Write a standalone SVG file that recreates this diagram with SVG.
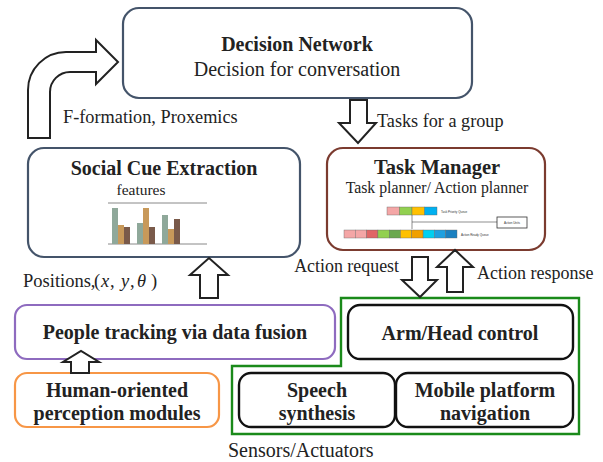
<svg xmlns="http://www.w3.org/2000/svg" width="603" height="462" viewBox="0 0 603 462">
<style>
text{font-family:"Liberation Serif","Times New Roman",serif;fill:#222}
.b{font-weight:bold}
.i{font-style:italic}
.arrow{fill:#fff;stroke:#222;stroke-width:2;stroke-linejoin:miter}
.slate{fill:#fff;stroke:#44546a;stroke-width:2.2}
.blk{fill:#fff;stroke:#111;stroke-width:2.4}
.tiny{font-family:"Liberation Sans",Arial,sans-serif;font-size:3px;fill:#333}
</style>
<rect width="603" height="462" fill="#fff"/>
<g id="sensors-actuators">
<polygon points="341,298 579,298 579,434 232,434 232,366 341,366" fill="none" stroke="#1a8a1a" stroke-width="2.4"/>
<text x="228" y="457" font-size="20">Sensors/Actuators</text>
</g>
<g id="decision-network">
<rect x="123" y="8" width="349" height="90" rx="16" class="slate"/>
<text x="297" y="51" font-size="20" text-anchor="middle" class="b">Decision Network</text>
<text x="297" y="76" font-size="20" text-anchor="middle">Decision for conversation</text>
</g>
<g id="social-cue-extraction">
<rect x="28" y="148" width="272" height="109" rx="16" class="slate"/>
<text x="164" y="175" font-size="20" text-anchor="middle" class="b">Social Cue Extraction</text>
<text x="141" y="195" font-size="15.5" text-anchor="middle">features</text>
<line x1="108" y1="203" x2="207" y2="203" stroke="#888" stroke-width="1"/>
<line x1="108" y1="244" x2="207" y2="244" stroke="#888" stroke-width="1"/>
<g>
<rect x="112" y="208" width="6" height="36" fill="#8fa89a"/>
<rect x="118" y="225" width="6" height="19" fill="#c8995a"/>
<rect x="124" y="227" width="6" height="17" fill="#7a5a4a"/>
<rect x="137" y="223" width="6" height="21" fill="#8fa89a"/>
<rect x="143" y="208" width="6" height="36" fill="#c8995a"/>
<rect x="149" y="227" width="6" height="17" fill="#7a5a4a"/>
<rect x="162" y="215" width="6" height="29" fill="#8fa89a"/>
<rect x="168" y="229" width="6" height="15" fill="#c8995a"/>
<rect x="174" y="219" width="6" height="25" fill="#7a5a4a"/>
</g>
</g>
<g id="task-manager">
<rect x="327" y="148" width="218" height="102" rx="16" fill="#fff" stroke="#7b3b2f" stroke-width="2.2"/>
<text x="437" y="174" font-size="20.5" text-anchor="middle" class="b">Task Manager</text>
<text x="437" y="193" font-size="15.8" text-anchor="middle">Task planner/ Action planner</text>
<g stroke="#666" stroke-width="0.4">
<rect x="387" y="207" width="12.5" height="8" fill="#f4a6a6"/>
<rect x="399.5" y="207" width="12.5" height="8" fill="#92d050"/>
<rect x="412" y="207" width="12.5" height="8" fill="#ffc000"/>
<rect x="424.5" y="207" width="12.5" height="8" fill="#00b0f0"/>
<rect x="344" y="230" width="11.3" height="8" fill="#f4a6a6"/>
<rect x="355.3" y="230" width="11.3" height="8" fill="#f4a6a6"/>
<rect x="366.6" y="230" width="11.3" height="8" fill="#e06666"/>
<rect x="377.9" y="230" width="11.3" height="8" fill="#92d050"/>
<rect x="389.2" y="230" width="11.3" height="8" fill="#6aa84f"/>
<rect x="400.5" y="230" width="11.3" height="8" fill="#ffc000"/>
<rect x="411.8" y="230" width="11.3" height="8" fill="#f0a000"/>
<rect x="423.1" y="230" width="11.3" height="8" fill="#00d0f0"/>
<rect x="434.4" y="230" width="11.3" height="8" fill="#1ea0e0"/>
<rect x="445.7" y="230" width="11.3" height="8" fill="#1a80c0"/>
</g>
<line x1="412" y1="215" x2="412" y2="229" stroke="#444" stroke-width="0.6"/>
<line x1="412" y1="222" x2="497" y2="222" stroke="#444" stroke-width="0.6"/>
<rect x="497" y="217" width="30" height="11" fill="#fff" stroke="#333" stroke-width="0.8"/>
<text x="512" y="223.5" class="tiny" text-anchor="middle">Action Units</text>
<text x="441" y="212.5" class="tiny">Task Priority Queue</text>
<text x="461" y="235.5" class="tiny">Action Ready Queue</text>
</g>
<g id="people-tracking">
<rect x="15" y="305" width="320" height="54" rx="12" fill="#fff" stroke="#8e6bbf" stroke-width="2.2"/>
<text x="175" y="339" font-size="20" text-anchor="middle" class="b">People tracking via data fusion</text>
</g>
<g id="human-oriented-perception">
<rect x="15" y="373" width="204" height="54" rx="12" fill="#fff" stroke="#f79646" stroke-width="2.2"/>
<text x="117" y="397" font-size="20" text-anchor="middle" class="b">Human-oriented</text>
<text x="117" y="420" font-size="20" text-anchor="middle" class="b">perception modules</text>
</g>
<g id="arm-head-control">
<rect x="348" y="305" width="225" height="54" rx="12" class="blk"/>
<text x="460" y="340" font-size="20" text-anchor="middle" class="b">Arm/Head control</text>
</g>
<g id="speech-synthesis">
<rect x="239" y="373" width="156" height="54" rx="12" class="blk"/>
<text x="317" y="397" font-size="20" text-anchor="middle" class="b">Speech</text>
<text x="317" y="420" font-size="20" text-anchor="middle" class="b">synthesis</text>
</g>
<g id="mobile-platform-navigation">
<rect x="396" y="373" width="177" height="54" rx="12" class="blk"/>
<text x="485" y="397" font-size="20" text-anchor="middle" class="b">Mobile platform</text>
<text x="485" y="420" font-size="20" text-anchor="middle" class="b">navigation</text>
</g>
<g id="connectors">
<path class="arrow" d="M28,138 L28,90 A38,38 0 0 1 66,52 L96,52 L96,40 L118,62 L96,84 L96,72 L70,72 A20,20 0 0 0 50,92 L50,138 Z"/>
<text x="63" y="123" font-size="18.3">F-formation, Proxemics</text>
<path class="arrow" d="M350,100 L367,100 L367,123 L376,123 L358,143 L339,123 L350,123 Z"/>
<text x="377" y="127" font-size="18.2">Tasks for a group</text>
<path class="arrow" d="M200,298 L200,275 L190,275 L209,258 L228,275 L218,275 L218,298 Z"/>
<text y="287" font-size="18.5"><tspan x="23">Positions,</tspan><tspan x="94">(</tspan><tspan x="101" class="i">x</tspan><tspan x="110">,</tspan><tspan x="121" class="i">y</tspan><tspan x="130">,</tspan><tspan x="137" class="i">θ</tspan><tspan x="151">)</tspan></text>
<path class="arrow" d="M412,257 L428,257 L428,280 L437,280 L420,297 L402,280 L412,280 Z"/>
<text x="399" y="272" font-size="17.9" text-anchor="end">Action request</text>
<path class="arrow" d="M447,292 L447,267 L437,267 L455,250 L473,267 L463,267 L463,292 Z"/>
<text x="477" y="279" font-size="18">Action response</text>
<path class="arrow" d="M71,373 L71,362 L63,362 L81,351 L99,362 L89,362 L89,373 Z"/>
</g>
</svg>
